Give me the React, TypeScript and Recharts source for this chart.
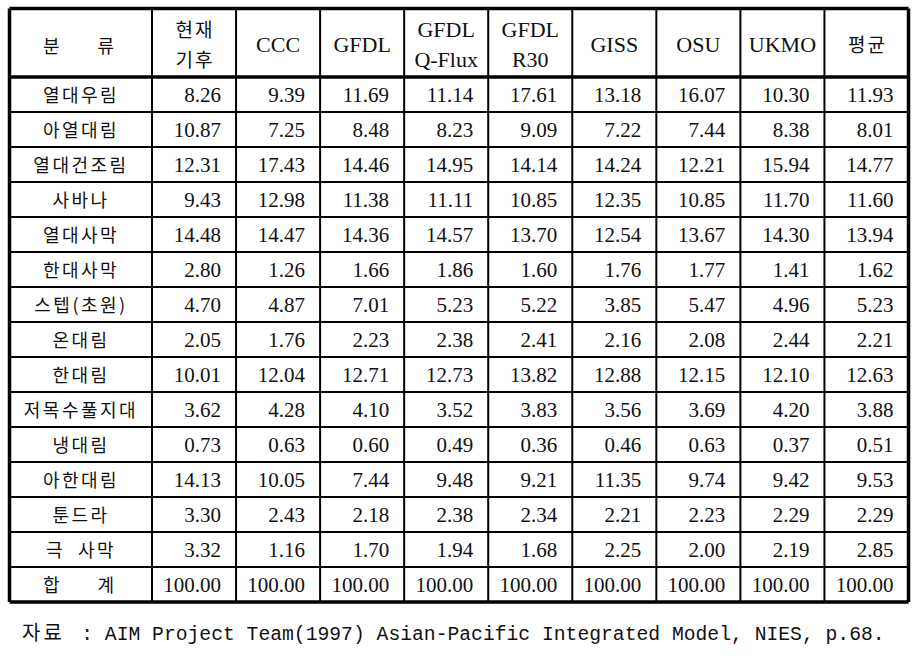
import { ScatterChart, Scatter, XAxis, YAxis, CartesianGrid, Customized } from 'recharts';

// column headers (a space marks a line break in the header cell)
const MODELS = ['현재 기후', 'CCC', 'GFDL', 'GFDL Q-Flux', 'GFDL R30', 'GISS', 'OSU', 'UKMO', '평균'];

const CATEGORIES = [
  '열대우림', '아열대림', '열대건조림', '사바나', '열대사막', '한대사막', '스텝(초원)',
  '온대림', '한대림', '저목수풀지대', '냉대림', '아한대림', '툰드라', '극 사막', '합 계',
];

const CURRENT = [8.26, 10.87, 12.31, 9.43, 14.48, 2.8, 4.7, 2.05, 10.01, 3.62, 0.73, 14.13, 3.3, 3.32, 100.0];
const CCC = [9.39, 7.25, 17.43, 12.98, 14.47, 1.26, 4.87, 1.76, 12.04, 4.28, 0.63, 10.05, 2.43, 1.16, 100.0];
const GFDL = [11.69, 8.48, 14.46, 11.38, 14.36, 1.66, 7.01, 2.23, 12.71, 4.1, 0.6, 7.44, 2.18, 1.7, 100.0];
const GFDL_QFLUX = [11.14, 8.23, 14.95, 11.11, 14.57, 1.86, 5.23, 2.38, 12.73, 3.52, 0.49, 9.48, 2.38, 1.94, 100.0];
const GFDL_R30 = [17.61, 9.09, 14.14, 10.85, 13.7, 1.6, 5.22, 2.41, 13.82, 3.83, 0.36, 9.21, 2.34, 1.68, 100.0];
const GISS = [13.18, 7.22, 14.24, 12.35, 12.54, 1.76, 3.85, 2.16, 12.88, 3.56, 0.46, 11.35, 2.21, 2.25, 100.0];
const OSU = [16.07, 7.44, 12.21, 10.85, 13.67, 1.77, 5.47, 2.08, 12.15, 3.69, 0.63, 9.74, 2.23, 2.0, 100.0];
const UKMO = [10.3, 8.38, 15.94, 11.7, 14.3, 1.41, 4.96, 2.44, 12.1, 4.2, 0.37, 9.42, 2.29, 2.19, 100.0];
const AVERAGE = [11.93, 8.01, 14.77, 11.6, 13.94, 1.62, 5.23, 2.21, 12.63, 3.88, 0.51, 9.53, 2.29, 2.85, 100.0];

const SERIES = [CURRENT, CCC, GFDL, GFDL_QFLUX, GFDL_R30, GISS, OSU, UKMO, AVERAGE];

const CORNER_LABEL = '분 류';
const SOURCE_PREFIX = '자료';
const SOURCE_TEXT = ' : AIM Project Team(1997) Asian-Pacific Integrated Model, NIES, p.68.';

const cells = SERIES.flatMap((values, c) =>
  values.map((v, r) => ({ model: MODELS[c], cat: CATEGORIES[r], value: v })),
);

// layout
const W = 921;
const H = 662;
const LEFT = 9.5;
const TOP = 8.5;
const RIGHT = 908.5;
const BOTTOM = 602;
const LABEL_W = 142.5;
const HEADER_H = 68.5;
const LABEL_CX = 80;

const SERIF = "'Liberation Serif', 'Times New Roman', serif";
const HANGUL = "'Noto Sans CJK KR', sans-serif";

// two single syllables spread across the cell, e.g. "분 류", "합 계"
function spreadLabel(label: string, cx: number, baseline: number) {
  const [a, b] = label.split(' ');
  return (
    <g fill="#111" fontFamily={HANGUL} fontSize={18}>
      <text x={cx - 37} y={baseline} textAnchor="start">{a}</text>
      <text x={cx + 34} y={baseline} textAnchor="end">{b}</text>
    </g>
  );
}

function HeaderTick(props: any) {
  const { x, payload } = props;
  const lines = String(payload.value).split(' ');
  const hangul = /[가-힣]/.test(payload.value);
  const font = hangul ? HANGUL : SERIF;
  const size = hangul ? 19 : 22;
  const ls = hangul ? 2 : 0;
  if (lines.length === 1) {
    return (
      <text x={x + ls / 2} y={52} textAnchor="middle" fontFamily={font} fontSize={size} letterSpacing={ls} fill="#111">
        {lines[0]}
      </text>
    );
  }
  return (
    <g fontFamily={font} fontSize={size} fill="#111" textAnchor="middle" letterSpacing={ls}>
      <text x={x + ls / 2} y={37}>{lines[0]}</text>
      <text x={x + ls / 2} y={67}>{lines[1]}</text>
    </g>
  );
}

function RowTick(props: any) {
  const { y, payload } = props;
  const label = String(payload.value);
  if (/^\S \S$/.test(label)) return spreadLabel(label, LABEL_CX, y + 7);
  return (
    <text
      x={LABEL_CX + 1}
      y={y + 7}
      textAnchor="middle"
      fontFamily={HANGUL}
      fontSize={18}
      letterSpacing={2.5}
      fill="#111"
      style={{ whiteSpace: 'pre' }}
    >
      {label.replace(' ', '  ')}
    </text>
  );
}

function renderCell(props: any) {
  const { cx, cy, payload } = props;
  return (
    <text x={cx + 27} y={cy + 7} textAnchor="end" fontFamily={SERIF} fontSize={21} fill="#111">
      {payload.value.toFixed(2)}
    </text>
  );
}

function Extras() {
  return (
    <g>
      {spreadLabel(CORNER_LABEL, LABEL_CX, 53)}
      <text x={22} y={640} fontFamily={HANGUL} fontSize={20} letterSpacing={3} fill="#111">
        {SOURCE_PREFIX}
      </text>
      <text x={69.4} y={640} fontFamily="'Liberation Mono', monospace" fontSize={19.7} fill="#111" style={{ whiteSpace: 'pre' }}>
        {SOURCE_TEXT}
      </text>
    </g>
  );
}

export default function App() {
  return (
    <div style={{ position: 'absolute', left: 0, top: 0, width: W, height: H, background: '#fff' }}>
      <ScatterChart
        width={W}
        height={H}
        margin={{ top: TOP, left: LEFT, right: W - RIGHT, bottom: H - BOTTOM }}
      >
        {/* row separators, across the label column too */}
        <CartesianGrid
          vertical={false}
          x={LEFT}
          width={RIGHT - LEFT}
          stroke="#000"
          strokeWidth={2}
          horizontalCoordinatesGenerator={({ offset }: any) =>
            CATEGORIES.slice(1).map((_, i) => offset.top + ((i + 1) * offset.height) / CATEGORIES.length)
          }
        />
        {/* column separators, through the header row */}
        <CartesianGrid
          horizontal={false}
          y={TOP}
          height={BOTTOM - TOP}
          stroke="#000"
          strokeWidth={2}
          verticalCoordinatesGenerator={({ offset }: any) =>
            MODELS.map((_, i) => offset.left + (i * offset.width) / MODELS.length)
          }
        />
        {/* outer frame and header rule */}
        <CartesianGrid
          x={LEFT}
          y={TOP}
          width={RIGHT - LEFT}
          height={BOTTOM - TOP}
          stroke="#000"
          strokeWidth={3.5}
          horizontalCoordinatesGenerator={({ offset }: any) => [TOP, offset.top, offset.top + offset.height]}
          verticalCoordinatesGenerator={() => [LEFT, RIGHT]}
        />
        <XAxis
          type="category"
          dataKey="model"
          orientation="top"
          height={HEADER_H}
          allowDuplicatedCategory={false}
          interval={0}
          tickLine={false}
          axisLine={false}
          tick={<HeaderTick />}
        />
        <YAxis
          type="category"
          dataKey="cat"
          width={LABEL_W}
          reversed
          allowDuplicatedCategory={false}
          interval={0}
          tickLine={false}
          axisLine={false}
          tick={<RowTick />}
        />
        <Scatter data={cells} shape={renderCell} isAnimationActive={false} />
        <Customized component={<Extras />} />
      </ScatterChart>
    </div>
  );
}
